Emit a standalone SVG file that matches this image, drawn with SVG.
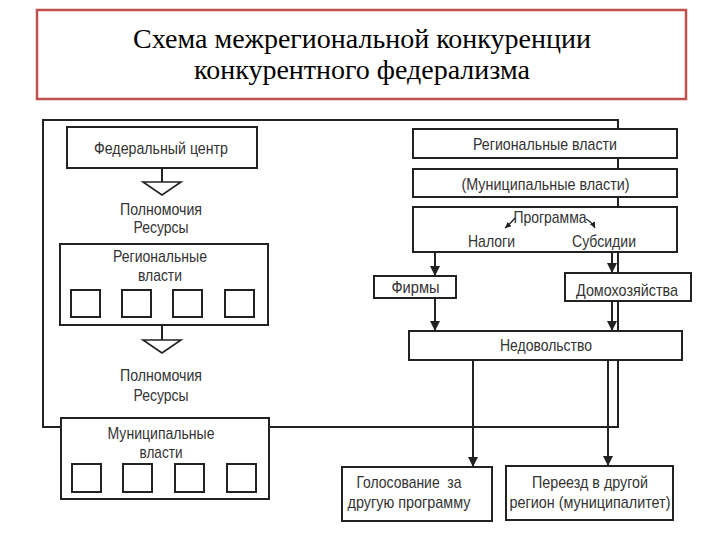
<svg xmlns="http://www.w3.org/2000/svg" width="720" height="540" viewBox="0 0 720 540">
<defs>
<style>
.t{font-family:"Liberation Sans",Arial,sans-serif;font-size:17px;fill:#333;text-anchor:middle}
.title{font-family:"Liberation Serif","Times New Roman",serif;font-size:28px;fill:#000;text-anchor:middle}
.b{fill:#fff;stroke:#222;stroke-width:2}
.sq{fill:#fff;stroke:#222;stroke-width:2}
.ln{fill:none;stroke:#222;stroke-width:2}
.ar{fill:none;stroke:#222;stroke-width:2;marker-end:url(#ah)}
.sa{fill:none;stroke:#222;stroke-width:1.3;marker-end:url(#sh)}
.tri{fill:#fff;stroke:#222;stroke-width:1.6}
</style>
<marker id="ah" markerUnits="userSpaceOnUse" markerWidth="10" markerHeight="10" refX="10" refY="5" orient="auto">
<path d="M0,0 L10,5 L0,10 z" fill="#222"/>
</marker>
<marker id="sh" markerUnits="userSpaceOnUse" markerWidth="6" markerHeight="6" refX="6" refY="3" orient="auto">
<path d="M0,0 L6,3 L0,6 z" fill="#222"/>
</marker>
</defs>
<rect width="720" height="540" fill="#fff"/>
<g id="title">
<rect x="37" y="10" width="649" height="89" fill="#fff" stroke="#c0504d" stroke-width="2.5"/>
<text class="title" x="362" y="48">Схема межрегиональной конкуренции</text>
<text class="title" x="362" y="79">конкурентного федерализма</text>
</g>
<g id="connectors">
<path class="ln" d="M61,427 H43 V120 H618 V427 H269"/>
<path class="ln" d="M162,168 V182"/>
<path class="tri" d="M143,182 H181 L162,195 z"/>
<path class="ln" d="M162,325 V340"/>
<path class="tri" d="M143,340 H181 L162,353 z"/>
<path class="ar" d="M435,252 V276"/>
<path class="ar" d="M435,298 V331"/>
<path class="ar" d="M612,252 V273"/>
<path class="ar" d="M612,301 V331"/>
<path class="ar" d="M473,360 V467"/>
<path class="ar" d="M608,360 V466"/>
</g>
<g id="fed-center">
<rect class="b" x="67" y="127" width="190" height="41"/>
<text class="t" x="161" y="153.5" textLength="134" lengthAdjust="spacingAndGlyphs">Федеральный центр</text>
</g>
<g id="powers-1">
<text class="t" x="161" y="214.5" textLength="82" lengthAdjust="spacingAndGlyphs">Полномочия</text>
<text class="t" x="161" y="232.5" textLength="55" lengthAdjust="spacingAndGlyphs">Ресурсы</text>
</g>
<g id="regional-left">
<rect class="b" x="60" y="244" width="208" height="81"/>
<text class="t" x="160" y="261.5" textLength="94" lengthAdjust="spacingAndGlyphs">Региональные</text>
<text class="t" x="160" y="280.5" textLength="44" lengthAdjust="spacingAndGlyphs">власти</text>
<rect class="sq" x="71" y="290" width="29" height="27"/>
<rect class="sq" x="122" y="290" width="29" height="27"/>
<rect class="sq" x="173" y="290" width="29" height="27"/>
<rect class="sq" x="225" y="290" width="29" height="27"/>
</g>
<g id="powers-2">
<text class="t" x="161" y="380.5" textLength="82" lengthAdjust="spacingAndGlyphs">Полномочия</text>
<text class="t" x="161" y="400.5" textLength="55" lengthAdjust="spacingAndGlyphs">Ресурсы</text>
</g>
<g id="municipal-left">
<rect class="b" x="61" y="418" width="208" height="81"/>
<text class="t" x="161" y="438.5" textLength="107" lengthAdjust="spacingAndGlyphs">Муниципальные</text>
<text class="t" x="161" y="457.5" textLength="43" lengthAdjust="spacingAndGlyphs">власти</text>
<rect class="sq" x="72" y="464" width="29" height="28"/>
<rect class="sq" x="123" y="464" width="29" height="28"/>
<rect class="sq" x="175" y="464" width="29" height="28"/>
<rect class="sq" x="227" y="464" width="29" height="28"/>
</g>
<g id="regional-right">
<rect class="b" x="413" y="129" width="264" height="29"/>
<text class="t" x="545" y="149.5" textLength="144" lengthAdjust="spacingAndGlyphs">Региональные власти</text>
</g>
<g id="municipal-right">
<rect class="b" x="413" y="169" width="264" height="28"/>
<text class="t" x="545.5" y="189.5" textLength="168" lengthAdjust="spacingAndGlyphs">(Муниципальные власти)</text>
</g>
<g id="program">
<rect class="b" x="413" y="207" width="264" height="45"/>
<text class="t" x="550" y="222.5" textLength="73" lengthAdjust="spacingAndGlyphs">Программа</text>
<text class="t" x="491.5" y="246.5" textLength="47" lengthAdjust="spacingAndGlyphs">Налоги</text>
<text class="t" x="604" y="246.5" textLength="64" lengthAdjust="spacingAndGlyphs">Субсидии</text>
<path class="sa" d="M515,218 Q511,223 505,228"/>
<path class="sa" d="M586,219 Q592,222 595,228"/>
</g>
<g id="firms">
<rect class="b" x="374" y="276" width="82" height="22"/>
<text class="t" x="415.5" y="293" textLength="48" lengthAdjust="spacingAndGlyphs">Фирмы</text>
</g>
<g id="households">
<rect class="b" x="565" y="273" width="126" height="28"/>
<text class="t" x="627" y="295.5" textLength="102" lengthAdjust="spacingAndGlyphs">Домохозяйства</text>
</g>
<g id="discontent">
<rect class="b" x="409" y="331" width="273" height="29"/>
<text class="t" x="546" y="350.5" textLength="92" lengthAdjust="spacingAndGlyphs">Недовольство</text>
</g>
<g id="voting">
<rect class="b" x="342" y="467" width="150" height="54"/>
<text class="t" x="409" y="487.5" xml:space="preserve" textLength="105" lengthAdjust="spacingAndGlyphs">Голосование  за</text>
<text class="t" x="409" y="507.5" textLength="123" lengthAdjust="spacingAndGlyphs">другую программу</text>
</g>
<g id="moving">
<rect class="b" x="506" y="466" width="167" height="54"/>
<text class="t" x="590" y="487.5" textLength="116" lengthAdjust="spacingAndGlyphs">Переезд в другой</text>
<text class="t" x="590" y="507.5" textLength="161" lengthAdjust="spacingAndGlyphs">регион (муниципалитет)</text>
</g>
</svg>
